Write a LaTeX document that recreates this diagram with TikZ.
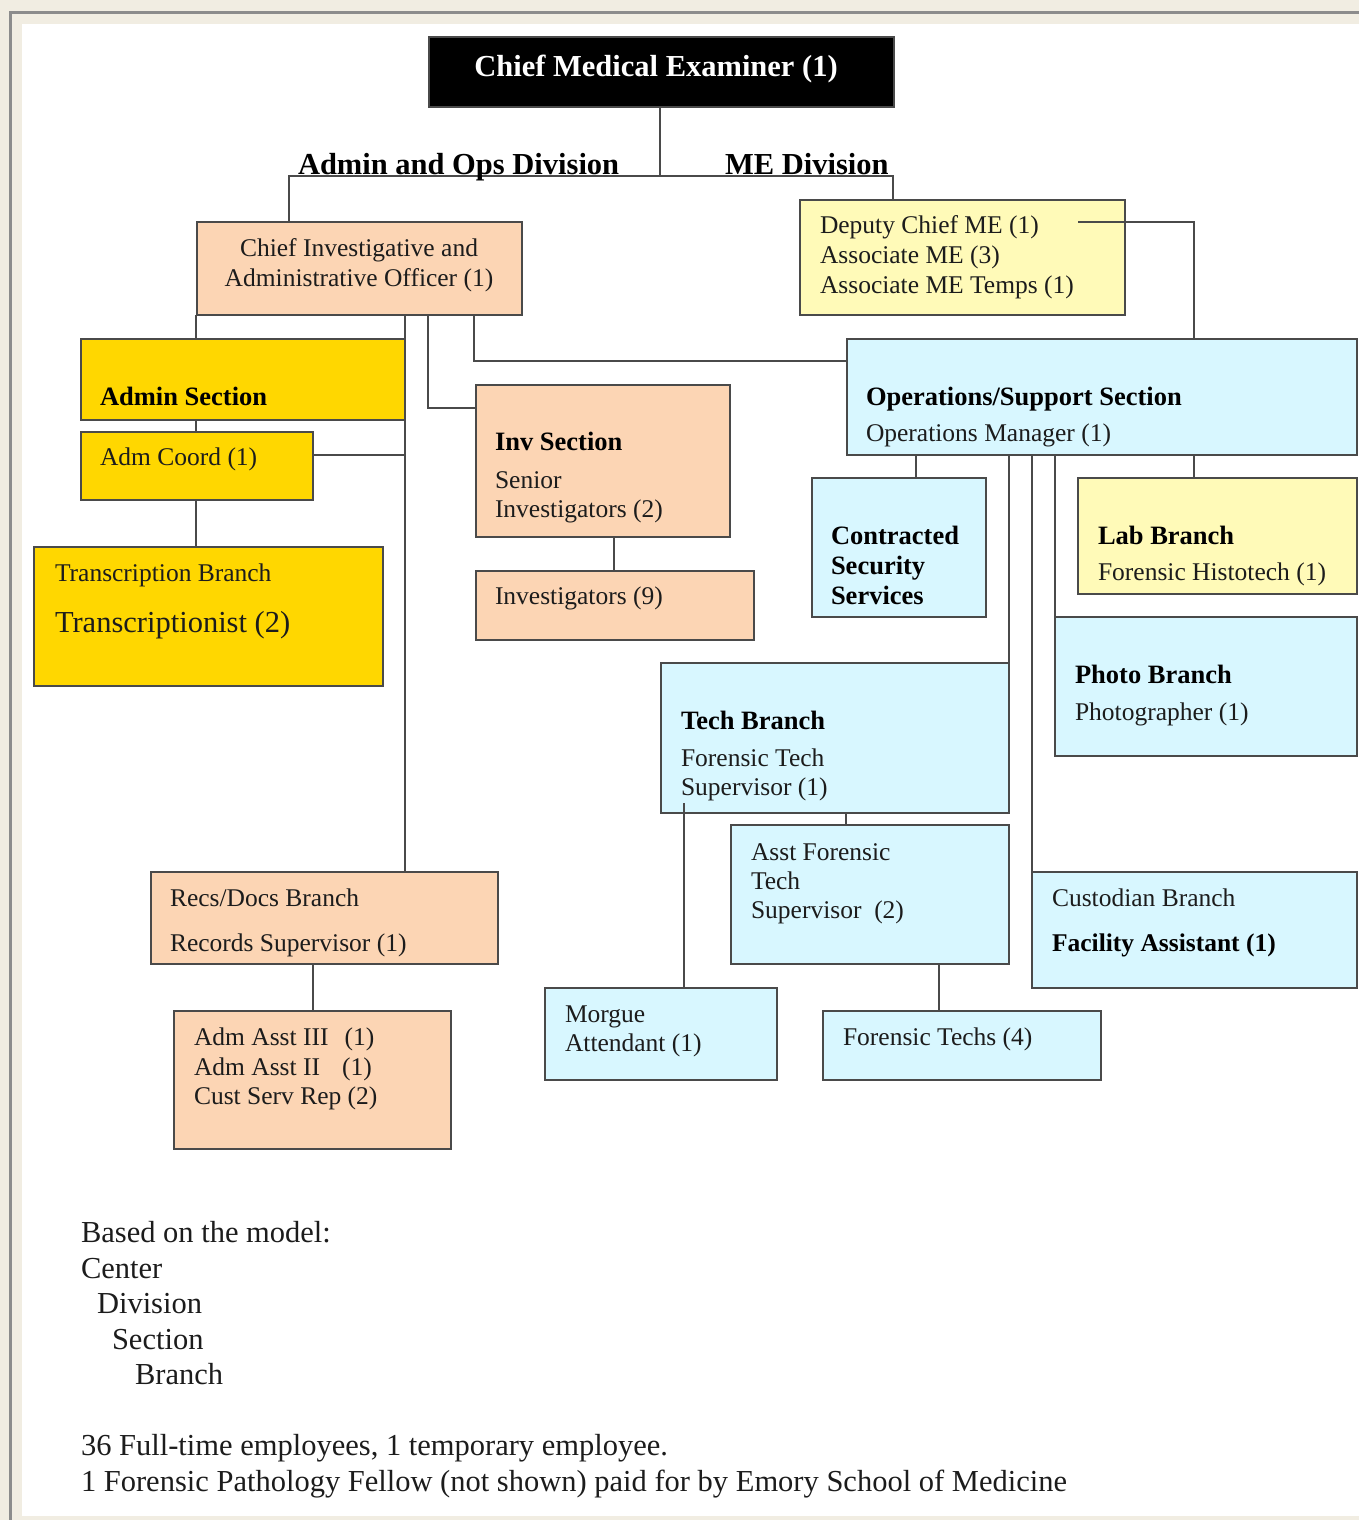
\documentclass[tikz,border=0pt]{standalone}
\usepackage{fontspec}
\setmainfont{Liberation Serif}
\definecolor{beige}{HTML}{F1EDE2}
\definecolor{framec}{HTML}{8C8C8C}
\definecolor{peach}{HTML}{FCD5B4}
\definecolor{gold}{HTML}{FFD700}
\definecolor{lyellow}{HTML}{FFFAB8}
\definecolor{lcyan}{HTML}{D8F7FF}
\definecolor{bordc}{HTML}{4A4A4A}
\definecolor{txtc}{HTML}{1C1C1C}
\tikzset{
  box/.style={draw=bordc, line width=1.8pt, inner sep=0pt, outer sep=0pt, anchor=north west},
  conn/.style={draw=bordc, line width=1.8pt},
  txt/.style={anchor=base west, inner sep=0pt, outer sep=0pt, text=txtc, font=\fontsize{25.5}{30}\selectfont},
  hd/.style={txt, text=black, font=\fontsize{26.5}{30}\selectfont\bfseries},
  big/.style={txt, font=\fontsize{30.5}{36}\selectfont},
  ttl/.style={anchor=base, inner sep=0pt, outer sep=0pt, font=\fontsize{30.5}{36}\selectfont\bfseries}
}
\begin{document}
\begin{tikzpicture}[x=1pt,y=-1pt]
\useasboundingbox (0,0) rectangle (1359,1520);
% frame
\fill[beige] (0,0) rectangle (1359,1520);
\draw[framec, line width=3pt] (10,1520) -- (10,13) -- (1359,13);
\fill[white] (22,24) rectangle (1359,1516);

% boxes
\node[box, fill=black, minimum width=465pt, minimum height=70pt] (cme) at (429,37) {};
\node[box, fill=peach, minimum width=325pt, minimum height=93pt] (cia) at (197,222) {};
\node[box, fill=lyellow, minimum width=325pt, minimum height=115pt] (dep) at (800,200) {};
\node[box, fill=lcyan, minimum width=510pt, minimum height=116pt] (ops) at (847,339) {};
\node[box, fill=gold, minimum width=324pt, minimum height=81pt] (adms) at (81,339) {};
\node[box, fill=gold, minimum width=232pt, minimum height=68pt] (admc) at (81,432) {};
\node[box, fill=gold, minimum width=349pt, minimum height=139pt] (trans) at (34,547) {};
\node[box, fill=peach, minimum width=254pt, minimum height=152pt] (inv) at (476,385) {};
\node[box, fill=peach, minimum width=278pt, minimum height=69pt] (invs) at (476,571) {};
\node[box, fill=lcyan, minimum width=174pt, minimum height=139pt] (css) at (812,478) {};
\node[box, fill=lyellow, minimum width=279pt, minimum height=116pt] (lab) at (1078,478) {};
\node[box, fill=lcyan, minimum width=302pt, minimum height=139pt] (photo) at (1055,617) {};
\node[box, fill=lcyan, minimum width=348pt, minimum height=150pt] (tech) at (661,663) {};
\node[box, fill=lcyan, minimum width=278pt, minimum height=139pt] (asst) at (731,825) {};
\node[box, fill=lcyan, minimum width=232pt, minimum height=92pt] (morgue) at (545,988) {};
\node[box, fill=lcyan, minimum width=278pt, minimum height=69pt] (ftech) at (823,1011) {};
\node[box, fill=lcyan, minimum width=325pt, minimum height=116pt] (cust) at (1032,872) {};
\node[box, fill=peach, minimum width=347pt, minimum height=92pt] (recs) at (151,872) {};
\node[box, fill=peach, minimum width=277pt, minimum height=138pt] (adma) at (174,1011) {};

% junction coordinates
\coordinate (divL) at (289,176);
\coordinate (divM) at (660,176);
\coordinate (divR) at (893,176);
\coordinate (depL) at (1078,222);
\coordinate (mtop) at (684,803);

% connectors
\draw[conn] (cme.south -| divM) -- (divM);
\draw[conn] (cia.north -| divL) -- (divL) -- (divR) -- (dep.north -| divR);
\draw[conn] (depL) -| (ops.north -| 1194,0);
\draw[conn] (cia.south -| 474,0) |- (ops.west |- 0,361);
\draw[conn] (cia.south -| 428,0) |- (inv.west |- 0,408);
\draw[conn] (cia.south -| 405,0) -- (recs.north -| 405,0);
\draw[conn] (cia.south -| 196,0) -- (adms.north -| 196,0);
\draw[conn] (adms.south -| 196,0) -- (admc.north -| 196,0);
\draw[conn] (admc.east |- 0,455) -- (adms.east |- 0,455);
\draw[conn] (admc.south -| 196,0) -- (trans.north -| 196,0);
\draw[conn] (inv.south -| 614,0) -- (invs.north -| 614,0);
\draw[conn] (ops.south -| 916,0) -- (css.north -| 916,0);
\draw[conn] (ops.south -| 1194,0) -- (lab.north -| 1194,0);
\draw[conn] (ops.south -| photo.west) -- (photo.north west);
\draw[conn] (ops.south -| cust.west) -- (cust.north west);
\draw[conn] (ops.south -| tech.east) -- (tech.north east);
\draw[conn] (tech.south -| 846,0) -- (asst.north -| 846,0);
\draw[conn] (morgue.north -| mtop) -- (mtop);
\draw[conn] (asst.south -| 939,0) -- (ftech.north -| 939,0);
\draw[conn] (recs.south -| 313,0) -- (adma.north -| 313,0);

% texts
\node[ttl, text=white] (tcme) at (656,77) {Chief Medical Examiner (1)};
\node[ttl, anchor=base west] (tdivL) at (298,174) {Admin and Ops Division};
\node[ttl, anchor=base west] (tdivR) at (725,174) {ME Division};

\node[txt, anchor=base] (tcia1) at (359,256) {Chief Investigative and};
\node[txt, anchor=base] (tcia2) at (359,286) {Administrative Officer (1)};

\node[txt] (tdep1) at (820,233) {Deputy Chief ME (1)};
\node[txt] (tdep2) at (820,263) {Associate ME (3)};
\node[txt] (tdep3) at (820,293) {Associate ME Temps (1)};

\node[hd] (tops1) at (866,405) {Operations/Support Section};
\node[txt] (tops2) at (866,441) {Operations Manager (1)};

\node[hd] (tadms) at (100,405) {Admin Section};
\node[txt] (tadmc) at (100,465) {Adm Coord (1)};
\node[txt] (ttr1) at (55,581) {Transcription Branch};
\node[big] (ttr2) at (55,632) {Transcriptionist (2)};

\node[hd] (tinv1) at (495,450) {Inv Section};
\node[txt] (tinv2) at (495,488) {Senior};
\node[txt] (tinv3) at (495,517) {Investigators (2)};
\node[txt] (tinvs) at (495,604) {Investigators (9)};

\node[hd] (tcss1) at (831,544) {Contracted};
\node[hd] (tcss2) at (831,574) {Security};
\node[hd] (tcss3) at (831,604) {Services};

\node[hd] (tlab1) at (1098,544) {Lab Branch};
\node[txt] (tlab2) at (1098,580) {Forensic Histotech (1)};

\node[hd] (tph1) at (1075,683) {Photo Branch};
\node[txt] (tph2) at (1075,720) {Photographer (1)};

\node[hd] (ttech1) at (681,729) {Tech Branch};
\node[txt] (ttech2) at (681,766) {Forensic Tech};
\node[txt] (ttech3) at (681,795) {Supervisor (1)};

\node[txt] (tasst1) at (751,860) {Asst Forensic};
\node[txt] (tasst2) at (751,889) {Tech};
\node[txt] (tasst3) at (751,918) {Supervisor\ \ (2)};

\node[txt] (tcust1) at (1052,906) {Custodian Branch};
\node[txt, font=\fontsize{25.5}{30}\selectfont\bfseries, text=black] (tcust2) at (1052,951) {Facility Assistant (1)};

\node[txt] (trecs1) at (170,906) {Recs/Docs Branch};
\node[txt] (trecs2) at (170,951) {Records Supervisor (1)};

\node[txt] (tadma1) at (194,1045) {Adm Asst III\hspace{16pt}(1)};
\node[txt] (tadma2) at (194,1075) {Adm Asst II\hspace{22pt}(1)};
\node[txt] (tadma3) at (194,1104) {Cust Serv Rep (2)};

\node[txt] (tmor1) at (565,1022) {Morgue};
\node[txt] (tmor2) at (565,1051) {Attendant (1)};
\node[txt] (tft) at (843,1045) {Forensic Techs (4)};

\node[big] (tb1) at (81,1242) {Based on the model:};
\node[big] (tb2) at (81,1278) {Center};
\node[big] (tb3) at (97,1313) {Division};
\node[big] (tb4) at (112,1349) {Section};
\node[big] (tb5) at (135,1384) {Branch};
\node[big] (tb6) at (81,1455) {36 Full-time employees, 1 temporary employee.};
\node[big] (tb7) at (81,1491) {1 Forensic Pathology Fellow (not shown) paid for by Emory School of Medicine};
\end{tikzpicture}
\end{document}
